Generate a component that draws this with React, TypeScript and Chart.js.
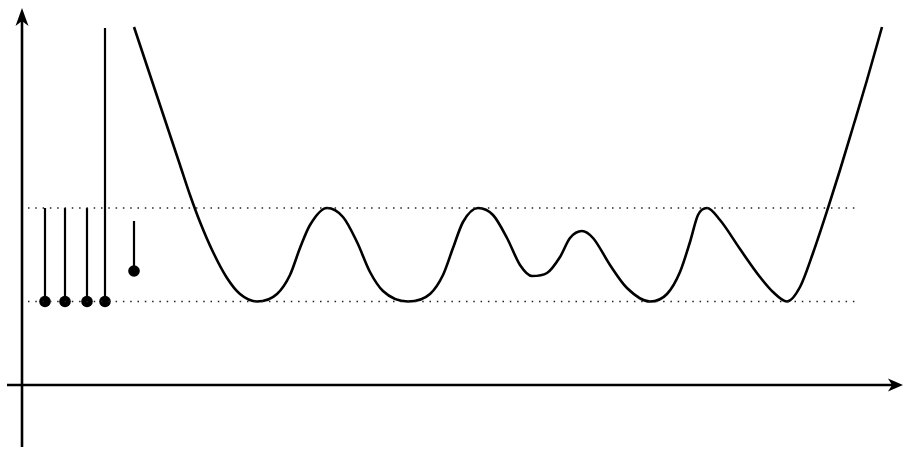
import React, { useEffect, useRef } from "react";
import { Chart, registerables } from "chart.js";

Chart.register(...registerables);

// Curve samples (x, y)
const curveX = [11.2, 12.8, 14.3, 15.8, 16.8, 17.8, 19.1, 20.5, 21.8, 23.5, 25.5, 26.8, 27.8, 28.8, 30.5, 32.1, 33.5, 34.8, 36.1, 38.6, 40.8, 42.1, 43.1, 44.1, 45.6, 47.1, 48.5, 49.8, 51.0, 52.5, 53.8, 54.8, 56.0, 57.1, 58.8, 60.5, 62.8, 64.5, 65.8, 66.8, 67.6, 68.5, 69.8, 71.8, 73.8, 75.1, 76.5, 77.8, 79.1, 80.6, 81.8, 83.1, 84.5, 86.0];
const curveY = [35.8, 31.0, 26.5, 22.0, 19.0, 16.3, 13.3, 10.7, 9.1, 8.35, 9.1, 11.0, 13.7, 16.0, 17.7, 16.8, 14.3, 11.3, 9.4, 8.35, 9.1, 11.0, 13.7, 16.3, 17.7, 17.0, 14.7, 12.0, 10.9, 11.2, 12.8, 14.7, 15.4, 14.7, 12.0, 9.7, 8.35, 9.1, 11.3, 14.3, 17.0, 17.7, 16.5, 13.6, 10.8, 9.3, 8.35, 9.8, 13.2, 17.7, 21.5, 25.8, 30.5, 35.8];

// Stems (x, top, bottom)
const stemX = [2.3, 4.3, 6.5, 8.3, 11.2];
const stemTop = [17.7, 17.7, 17.7, 35.7, 16.4];
const stemBottom = [8.35, 8.35, 8.35, 8.35, 11.4];

// Dotted reference levels
const levelY = [17.7, 8.35];
const levelFrom = 0.6;
const levelTo = 83.3;

// Axis extents
const xRange = [-2.2, 88.1];
const yRange = [-6.4, 38.5];
const xAxisSpan = [-1.5, 88.1];
const yAxisSpan = [-6.2, 37.7];

const axesPlugin = {
  id: "arrowAxes",
  afterDatasetsDraw(chart: any) {
    const ctx = chart.ctx;
    const xs = chart.scales.x;
    const ys = chart.scales.y;
    const x0 = xs.getPixelForValue(0);
    const y0 = ys.getPixelForValue(0);
    ctx.save();
    ctx.strokeStyle = "#000";
    ctx.fillStyle = "#000";
    ctx.lineWidth = 2.6;
    // x axis
    const xa = xs.getPixelForValue(xAxisSpan[0]);
    const xb = xs.getPixelForValue(xAxisSpan[1]);
    ctx.beginPath();
    ctx.moveTo(xa, y0);
    ctx.lineTo(xb - 8, y0);
    ctx.stroke();
    ctx.beginPath();
    ctx.moveTo(xb, y0);
    ctx.lineTo(xb - 15, y0 - 6.5);
    ctx.lineTo(xb - 11, y0);
    ctx.lineTo(xb - 15, y0 + 6.5);
    ctx.closePath();
    ctx.fill();
    // y axis
    const ya = ys.getPixelForValue(yAxisSpan[0]);
    const yb = ys.getPixelForValue(yAxisSpan[1]);
    ctx.beginPath();
    ctx.moveTo(x0, ya);
    ctx.lineTo(x0, yb + 8);
    ctx.stroke();
    ctx.beginPath();
    ctx.moveTo(x0, yb);
    ctx.lineTo(x0 - 6.5, yb + 18);
    ctx.lineTo(x0, yb + 13);
    ctx.lineTo(x0 + 6.5, yb + 18);
    ctx.closePath();
    ctx.fill();
    ctx.restore();
  },
};

export default function App() {
  const ref = useRef<HTMLCanvasElement | null>(null);
  useEffect(() => {
    if (!ref.current) return;
    const datasets: any[] = [];
    levelY.forEach((y) => {
      datasets.push({
        data: [
          { x: levelFrom, y },
          { x: levelTo, y },
        ],
        borderColor: "#222",
        borderWidth: 1.5,
        borderDash: [1.5, 5.8],
        pointRadius: 0,
        showLine: true,
      });
    });
    stemX.forEach((x, i) => {
      datasets.push({
        data: [
          { x, y: stemTop[i] },
          { x, y: stemBottom[i] },
        ],
        borderColor: "#000",
        backgroundColor: "#000",
        borderWidth: 2.2,
        pointRadius: [0, 5.8],
        pointBorderWidth: 0,
        showLine: true,
      });
    });
    datasets.push({
      data: curveX.map((x, i) => ({ x, y: curveY[i] })),
      borderColor: "#000",
      borderWidth: 2.6,
      pointRadius: 0,
      showLine: true,
      cubicInterpolationMode: "monotone",
      clip: false,
    });
    const chart = new Chart(ref.current, {
      type: "scatter",
      data: { datasets },
      options: {
        animation: false,
        responsive: false,
        layout: { padding: 0, autoPadding: false },
        plugins: { legend: { display: false }, tooltip: { enabled: false } },
        scales: {
          x: { type: "linear", min: xRange[0], max: xRange[1], display: false },
          y: { type: "linear", min: yRange[0], max: yRange[1], display: false },
        },
      },
      plugins: [axesPlugin],
    });
    return () => chart.destroy();
  }, []);
  return (
    <div style={{ position: "fixed", left: 0, top: 0, width: 903, height: 449, background: "#fff" }}>
      <canvas ref={ref} width={903} height={449} style={{ width: 903, height: 449 }} />
    </div>
  );
}
